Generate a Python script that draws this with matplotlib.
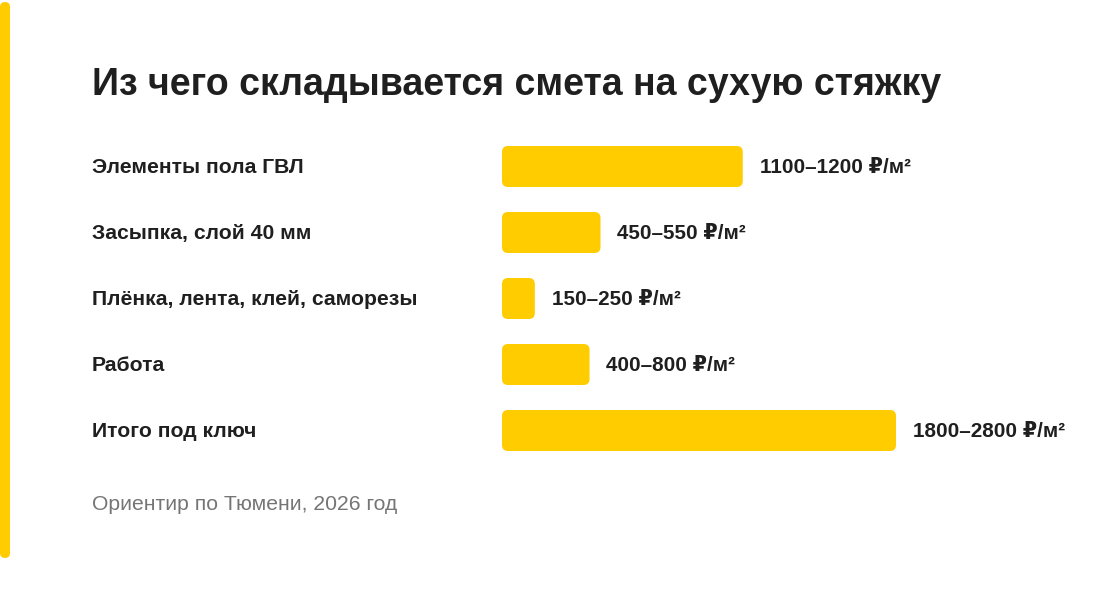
import matplotlib.pyplot as plt
from matplotlib.patches import FancyBboxPatch
from matplotlib.transforms import blended_transform_factory

# данные
categories = ['Элементы пола ГВЛ', 'Засыпка, слой 40 мм', 'Плёнка, лента, клей, саморезы',
              'Работа', 'Итого под ключ']
price_low = [1100, 450, 150, 400, 1800]
price_high = [1200, 550, 250, 800, 2800]
value_labels = [f'{lo}–{hi} ₽/м²' for lo, hi in zip(price_low, price_high)]

title = 'Из чего складывается смета на сухую стяжку'
note = 'Ориентир по Тюмени, 2026 год'

yellow = '#FFCC00'
dark = '#1f1f1f'
gray = '#757575'
fonts = ['Liberation Sans', 'DejaVu Sans']

W, H = 1100, 600
fig = plt.figure(figsize=(W / 100, H / 100), dpi=100)
fig.patch.set_facecolor('white')

# область с полосами: x=0 -> 502 px, 0.219 px на рубль
px_per_rub = 394 / 1800
ax_left, ax_right = 502, 1100
ax_top, ax_bot = 133.5, 463.5
ax = fig.add_axes([ax_left / W, 1 - ax_bot / H, (ax_right - ax_left) / W, (ax_bot - ax_top) / H])
ax.set_xlim(0, (ax_right - ax_left) / px_per_rub)
ax.set_ylim(len(categories) - 0.5, -0.5)
ax.axis('off')

bar_h = 41 / 66
radius_px = 6
rub_per_px = 1 / px_per_rub
aspect = (1 / 66) / rub_per_px
for i, lo in enumerate(price_low):
    p = FancyBboxPatch((0, i - bar_h / 2), lo, bar_h,
                       boxstyle=f'round,pad=0,rounding_size={radius_px * rub_per_px}',
                       mutation_aspect=aspect, fc=yellow, ec='none')
    ax.add_patch(p)
    ax.annotate(value_labels[i], (lo, i), xytext=(12.2, -1), textcoords='offset points',
                va='center', ha='left', fontsize=14.9, fontweight='bold', color=dark, family=fonts)

# подписи категорий слева
tr = blended_transform_factory(fig.transFigure, ax.transData)
for i, name in enumerate(categories):
    ax.text(92 / W, i + 0.02, name, transform=tr, va='center', ha='left', fontsize=15.2,
            fontweight='bold', color=dark, family=fonts)

fig.text(92 / W, 1 - 85 / H, title, va='center', ha='left', fontsize=27,
         fontweight='bold', color=dark, family=fonts)
fig.text(92 / W, 1 - 504 / H, note, va='center', ha='left', fontsize=15.2,
         color=gray, family=fonts)

# жёлтая полоса слева
fig.patches.append(FancyBboxPatch((0, 1 - 558 / H), 10 / W, 556 / H,
                                  boxstyle='round,pad=0,rounding_size=0.0045',
                                  mutation_aspect=W / H,
                                  transform=fig.transFigure, fc=yellow, ec='none'))

fig.savefig('out.png', dpi=100, facecolor='white')
